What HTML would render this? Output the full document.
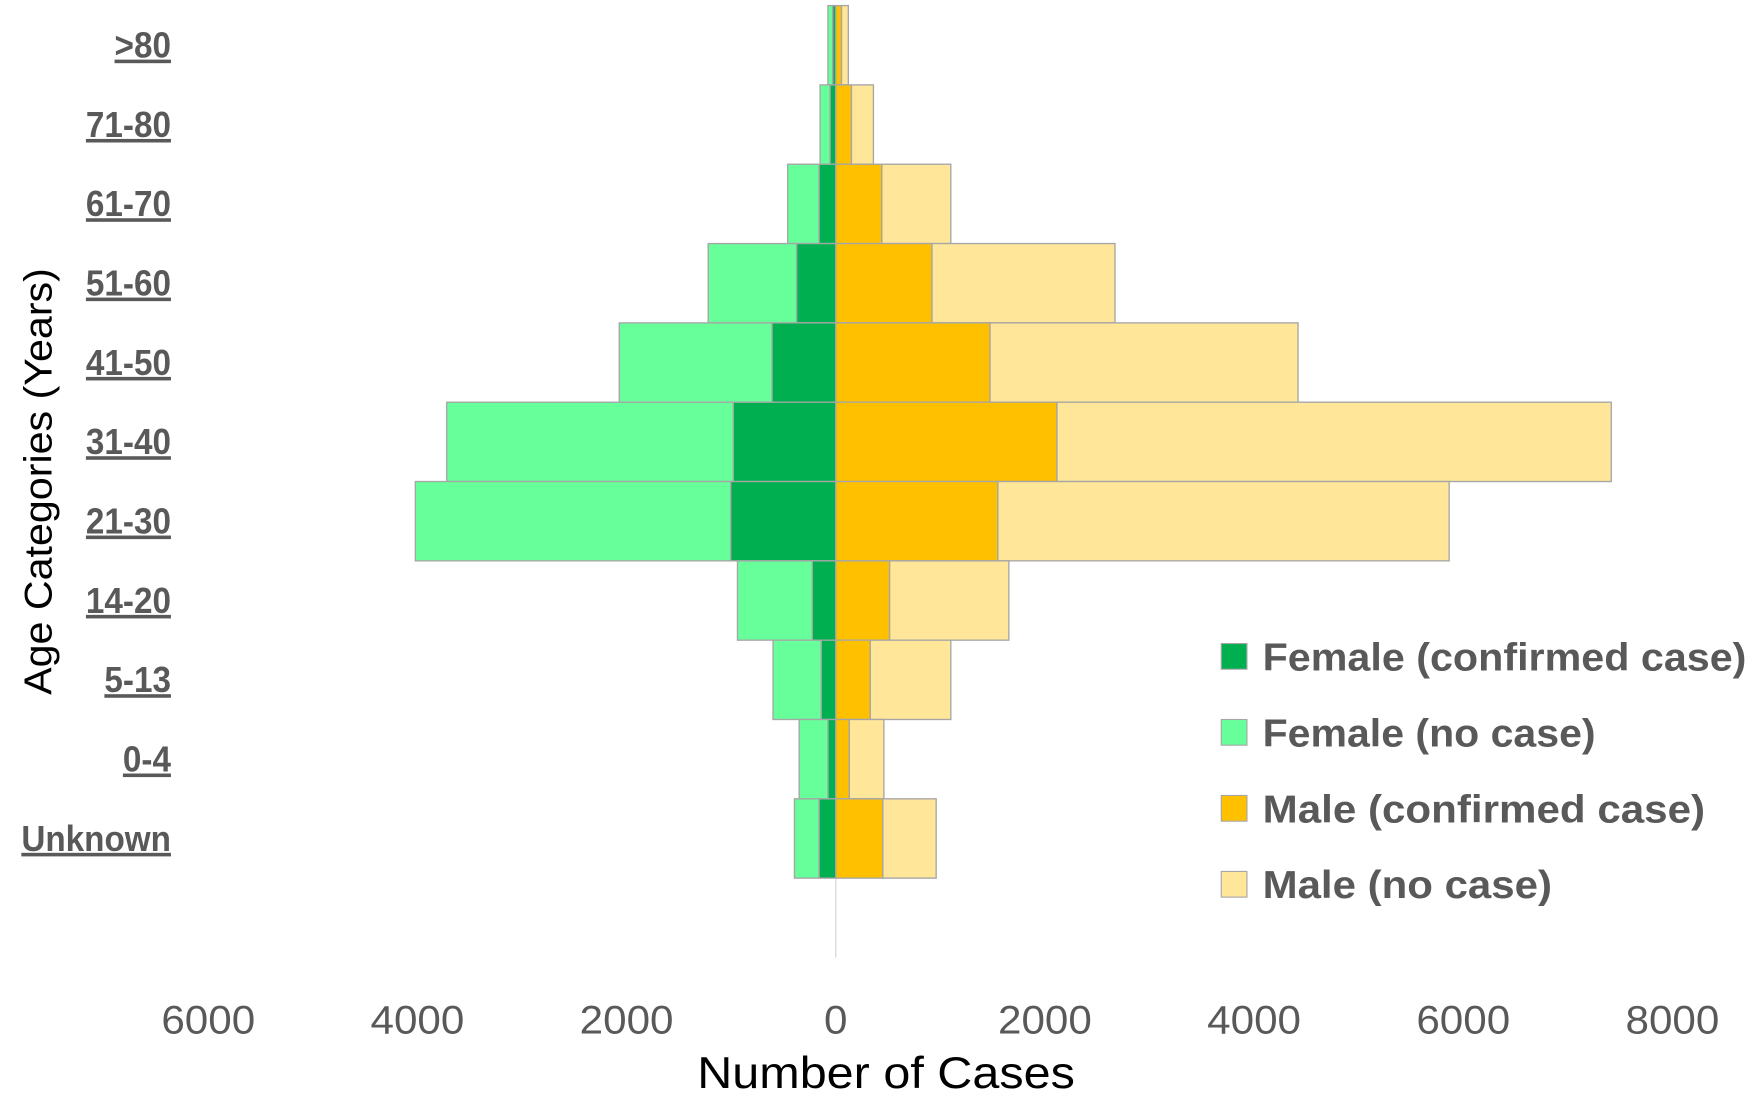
<!DOCTYPE html>
<html><head><meta charset="utf-8"><style>
html,body{margin:0;padding:0;background:#fff;}
svg{display:block;font-family:"Liberation Sans",sans-serif;}
</style></head><body>
<svg id="chart" width="1752" height="1096" viewBox="0 0 1568 981" preserveAspectRatio="none" xmlns="http://www.w3.org/2000/svg">
<g id="bars"></g>
<g id="ylabels"></g>
<g id="xticks"></g>
<text transform="translate(46,431) rotate(-90)" text-anchor="middle" font-size="35" fill="#000" textLength="382" lengthAdjust="spacingAndGlyphs">Age Categories (Years)</text>
<text x="793" y="974" text-anchor="middle" font-size="40" fill="#000" textLength="338" lengthAdjust="spacingAndGlyphs">Number of Cases</text>
<g font-weight="bold" font-size="35" fill="#595959">
<g><rect x="1093" y="576" width="23" height="23" fill="#00b050" stroke="#a6a6a6"/><text x="1130" y="600" textLength="433" lengthAdjust="spacingAndGlyphs">Female (confirmed case)</text></g>
<g><rect x="1093" y="644" width="23" height="23" fill="#66ff99" stroke="#a6a6a6"/><text x="1130" y="668" textLength="298" lengthAdjust="spacingAndGlyphs">Female (no case)</text></g>
<g><rect x="1093" y="712" width="23" height="23" fill="#ffc000" stroke="#a6a6a6"/><text x="1130" y="736" textLength="396" lengthAdjust="spacingAndGlyphs">Male (confirmed case)</text></g>
<g><rect x="1093" y="780" width="23" height="23" fill="#ffe699" stroke="#a6a6a6"/><text x="1130" y="804" textLength="259" lengthAdjust="spacingAndGlyphs">Male (no case)</text></g>
</g>
</svg>
<script>
const categories = [">80","71-80","61-70","51-60","41-50","31-40","21-30","14-20","5-13","0-4","Unknown"];
const femaleConfirmed = [30,55,160,375,610,980,1005,225,140,75,160];
const femaleNoCase = [45,95,300,845,1460,2740,3015,715,460,275,235];
const maleConfirmed = [55,150,440,920,1475,2115,1550,515,330,130,450];
const maleNoCase = [65,210,660,1750,2945,5300,4315,1140,770,330,510];
const tickValues = [-6000,-4000,-2000,0,2000,4000,6000,8000];
const tickLabels = ["6000","4000","2000","0","2000","4000","6000","8000"];

const NS="http://www.w3.org/2000/svg";
const x0=748, pxPer=93.6/1000, top0=5, band=71;
const xs=v=>x0+v*pxPer;
const ys=i=>top0+i*band;
const bars=document.getElementById('bars');
function rect(a,b,i,fill,name){
  const r=document.createElementNS(NS,'rect');
  const xa=xs(a), xb=xs(b);
  r.setAttribute('x',Math.min(xa,xb));r.setAttribute('width',Math.abs(xb-xa));
  r.setAttribute('y',ys(i));r.setAttribute('height',band);
  r.setAttribute('fill',fill);r.setAttribute('stroke','#a6a6a6');r.setAttribute('stroke-width','1.2');
  
  
  bars.appendChild(r);
}
const axis=document.createElementNS(NS,'line');
axis.setAttribute('x1',x0);axis.setAttribute('x2',x0);axis.setAttribute('y1',top0);axis.setAttribute('y2',top0+12*band);
axis.setAttribute('stroke','#d9d9d9');axis.setAttribute('stroke-width','1.2');


bars.appendChild(axis);
const yl=document.getElementById('ylabels');
categories.forEach((c,i)=>{
  rect(0,-femaleConfirmed[i],i,'#00b050','bar-female-confirmed-'+c);
  rect(-femaleConfirmed[i],-(femaleConfirmed[i]+femaleNoCase[i]),i,'#66ff99','bar-female-no-case-'+c);
  rect(0,maleConfirmed[i],i,'#ffc000','bar-male-confirmed-'+c);
  rect(maleConfirmed[i],maleConfirmed[i]+maleNoCase[i],i,'#ffe699','bar-male-no-case-'+c);
  const t=document.createElementNS(NS,'text');
  t.setAttribute('x',153);t.setAttribute('y',ys(i)+band/2+11);
  t.setAttribute('text-anchor','end');t.setAttribute('font-size','32');t.setAttribute('font-weight','bold');
  t.setAttribute('fill','#595959');t.setAttribute('text-decoration','underline');
  t.setAttribute('transform','translate(153,0) scale(0.93,1) translate(-153,0)');
  t.textContent=c;
  
  
  yl.appendChild(t);
});
const xt=document.getElementById('xticks');
tickValues.forEach((v,i)=>{
  const t=document.createElementNS(NS,'text');
  t.setAttribute('x',xs(v));t.setAttribute('y',925);
  t.setAttribute('text-anchor','middle');t.setAttribute('font-size','36');t.setAttribute('fill','#595959');
  t.setAttribute('textLength', tickLabels[i].length*21);
  t.setAttribute('lengthAdjust','spacingAndGlyphs');
  t.textContent=tickLabels[i];
  
  
  xt.appendChild(t);
});
</script>
</body></html>
